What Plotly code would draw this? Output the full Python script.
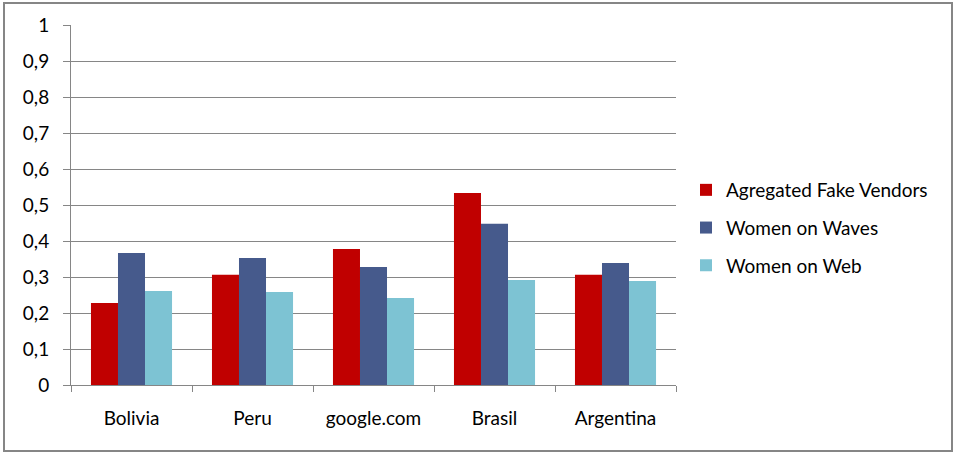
import plotly.graph_objects as go

categories = ["Bolivia", "Peru", "google.com", "Brasil", "Argentina"]
fake_vendors = [0.228, 0.306, 0.378, 0.533, 0.306]
women_on_waves = [0.367, 0.353, 0.328, 0.448, 0.339]
women_on_web = [0.261, 0.258, 0.242, 0.292, 0.289]
y_ticks = [0, 0.1, 0.2, 0.3, 0.4, 0.5, 0.6, 0.7, 0.8, 0.9, 1]
y_tick_labels = ["0", "0,1", "0,2", "0,3", "0,4", "0,5", "0,6", "0,7", "0,8", "0,9", "1"]

series = [
    ("Agregated Fake Vendors", fake_vendors, "#C00000"),
    ("Women on Waves", women_on_waves, "#465A8C"),
    ("Women on Web", women_on_web, "#7DC3D3"),
]

fig = go.Figure()
for i, (name, vals, color) in enumerate(series):
    fig.add_trace(go.Bar(
        x=categories, y=vals, name=name, legendgroup=str(i),
        marker=dict(color=color, line=dict(width=0)),
    ))

W, H = 956, 456
L, R, T, B = 71, 676, 25, 385
pw, ph = R - L, B - T

fig.update_layout(
    width=W, height=H,
    margin=dict(l=L, r=W - R, t=T, b=H - B, pad=0),
    paper_bgcolor="white", plot_bgcolor="white",
    font=dict(family="Lato, 'Open Sans', sans-serif", size=19, color="#000000"),
    barmode="group", bargap=0.33, bargroupgap=0,
    showlegend=True,
    legend=dict(x=(686 - L) / pw, y=(B - 228) / ph, xanchor="left", yanchor="middle",
                bgcolor="rgba(0,0,0,0)", font=dict(size=19), tracegroupgap=10,
                traceorder="grouped", itemwidth=30),
    xaxis=dict(showline=True, linecolor="#868686", linewidth=1,
               ticks="outside", ticklen=6, tickcolor="#868686", tickson="boundaries",
               showgrid=False, zeroline=False, ticklabelstandoff=16),
    yaxis=dict(range=[0, 1], tickvals=y_ticks, ticktext=y_tick_labels,
               showline=True, linecolor="#868686", linewidth=1,
               ticks="outside", ticklen=7, tickcolor="#868686",
               showgrid=True, gridcolor="#868686", gridwidth=1, zeroline=False,
               ticklabelstandoff=10),
    shapes=[dict(type="rect", xref="paper", yref="paper",
                 x0=(4 - L) / pw, x1=(952 - L) / pw,
                 y0=(B - 451) / ph, y1=(B - 3) / ph,
                 line=dict(color="#868686", width=2), fillcolor="rgba(0,0,0,0)",
                 layer="below")],
)

fig.write_html("out.html", config={"displayModeBar": False},
               post_script="document.body.style.margin='0';document.body.style.overflow='hidden';")
